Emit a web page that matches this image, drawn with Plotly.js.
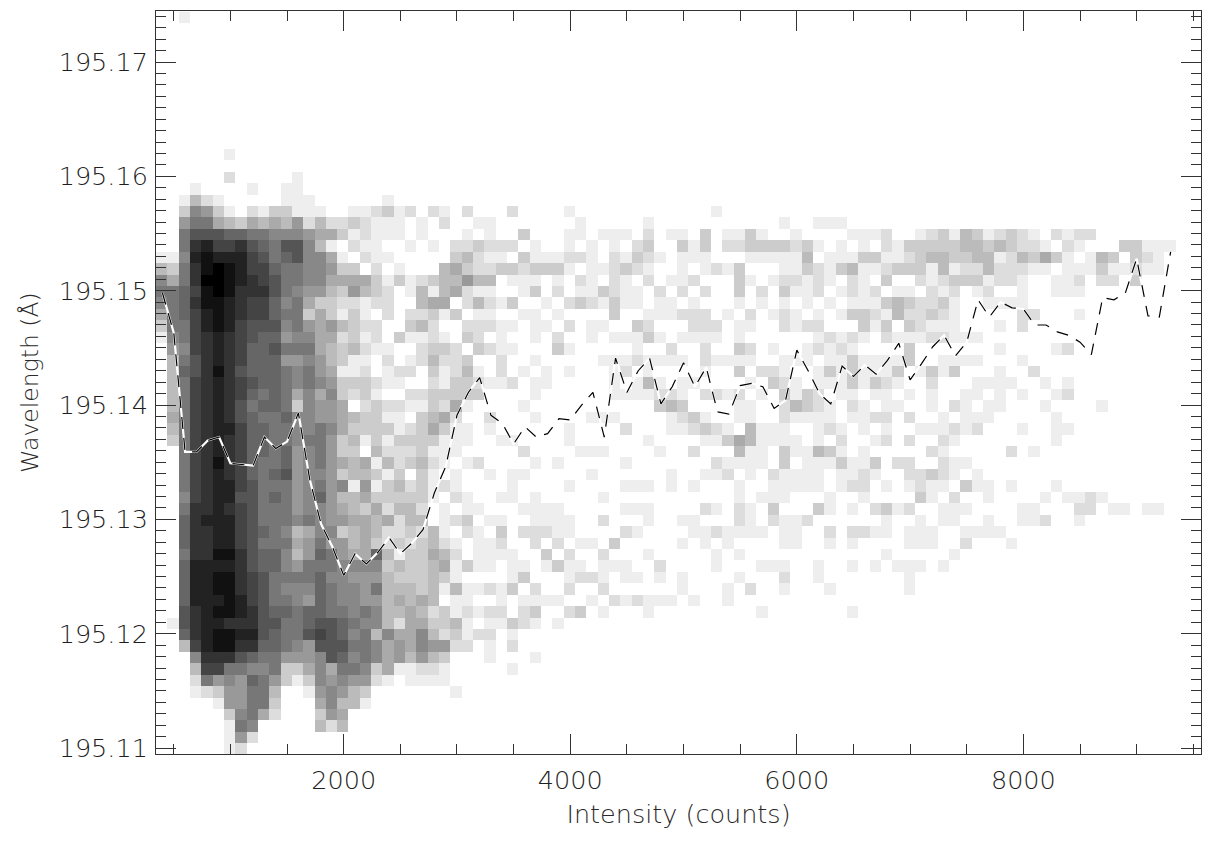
<!DOCTYPE html>
<html><head><meta charset="utf-8">
<script src="https://cdn.plot.ly/plotly-3.0.1.min.js"></script>
<style>html,body{margin:0;padding:0;background:#fff}#chart{width:1209px;height:846px}</style>
</head><body><div id="chart"></div>
<script>
// Left block: counts at intensities 400,500,...,3000 for one wavelength row
const L110=[0,0,0,0,0,0,1,2];
const L111=[0,0,0,0,0,0,1,6,2];
const L112=[0,0,0,0,0,0,1,8,7,0,0,0,0,0,4,2,4];
const L113=[0,0,0,0,0,0,3,7,8,5,2,0,0,0,3,6,5];
const L114=[0,0,0,0,0,1,6,6,8,8,3,0,0,0,5,7,4,4,1];
const L115=[0,0,0,1,2,3,6,6,8,8,4,0,0,1,6,7,6,4,3,0,0,0,0,0,0,0,1];
const L116=[0,0,0,2,8,6,7,6,9,8,6,3,1,3,7,6,7,6,6,2,1,0,1,1,1,1,0];
const L117=[0,0,0,4,11,11,8,8,7,7,8,3,3,5,7,5,8,8,7,3,5,1,1,2,2,1,0];
const L118=[0,0,0,7,12,12,12,10,9,8,8,6,6,6,7,10,9,7,8,7,5,6,4,6,4,3,0];
const L119=[0,0,4,11,13,14,14,12,12,9,9,8,7,6,10,10,10,8,8,7,5,6,5,7,6,6,2];
const L120=[0,0,9,12,13,14,14,13,13,10,9,8,8,10,11,10,9,7,8,4,7,5,5,7,4,2,3];
const L121=[0,1,10,12,13,13,12,12,12,10,10,8,8,9,10,10,9,8,7,7,4,2,5,5,3,3,4];
const L122=[0,0,10,12,13,14,14,13,12,10,9,9,8,9,9,8,8,7,8,7,4,4,5,4,2,3,1];
const L123=[0,0,9,13,13,13,14,13,11,10,8,8,7,6,9,8,7,7,6,6,4,5,4,5,4,0,1];
const L124=[0,0,9,13,13,14,14,12,11,10,8,7,7,7,9,8,7,7,6,8,4,4,4,3,4,1,4];
const L125=[0,0,9,13,13,14,14,12,11,10,8,8,8,8,9,7,7,6,6,6,4,3,3,3,4,3,1];
const L126=[0,0,9,13,13,13,13,12,10,9,9,7,6,8,8,8,7,7,7,7,3,4,3,3,4,5,1];
const L127=[0,0,8,12,12,14,14,12,10,9,9,7,4,6,9,8,6,5,5,9,4,1,3,3,5,4,2];
const L128=[0,0,9,12,12,13,13,11,10,8,8,8,5,6,8,6,6,4,5,3,2,3,2,3,4,2,1];
const L129=[0,0,9,12,12,13,13,11,10,9,8,7,4,5,7,7,3,4,5,4,2,2,3,2,4,1,0];
const L130=[0,0,9,12,13,13,13,11,10,8,8,8,7,8,7,6,6,5,5,4,5,2,4,4,0,1,2];
const L131=[0,0,8,12,12,13,12,11,10,8,8,8,6,7,7,6,5,4,3,5,2,4,4,2,0,1,0];
const L132=[0,0,7,11,12,13,13,10,10,8,9,8,6,7,9,6,4,4,5,3,3,3,3,3,1,0,2];
const L133=[0,0,8,11,12,13,13,11,10,8,8,8,6,7,8,6,7,1,6,1,3,4,2,3,1,2,1];
const L134=[0,0,8,11,12,13,12,11,9,8,9,10,6,7,7,6,3,4,4,3,1,3,0,3,1,0,1];
const L135=[0,0,8,11,12,14,12,11,9,8,8,9,6,7,8,6,5,4,5,1,4,2,3,4,2,1,0];
const L136=[0,0,8,11,12,13,12,11,9,9,8,9,6,7,8,6,3,3,0,4,2,2,2,3,1,1,1];
const L137=[0,3,8,11,12,13,12,11,9,9,8,8,7,8,8,6,3,4,1,3,1,3,3,3,3,1,1];
const L138=[0,4,8,11,12,13,13,11,9,9,8,8,7,7,8,7,5,3,3,3,3,1,2,3,5,3,1];
const L139=[0,5,8,11,12,13,12,10,9,8,8,9,7,7,6,6,5,4,3,3,1,1,0,3,4,5,2];
const L140=[0,4,8,11,12,13,12,10,8,9,9,8,3,7,6,6,5,0,2,3,2,2,1,1,3,2,5];
const L141=[0,4,8,11,12,13,12,11,9,8,9,8,5,7,5,7,3,2,3,1,0,0,2,2,3,3,3];
const L142=[0,4,8,11,12,13,12,11,10,9,9,8,7,8,7,6,3,3,3,2,1,1,0,0,2,1,3];
const L143=[0,4,9,10,12,14,12,10,9,9,9,8,7,8,6,5,1,1,2,0,1,2,2,0,3,1,2];
const L144=[0,4,8,10,12,13,12,11,9,9,9,6,6,7,6,4,3,1,1,0,2,0,1,2,4,2,2];
const L145=[0,6,7,11,12,13,12,11,9,9,10,8,8,8,5,4,3,4,2,1,1,0,0,2,3,3,2];
const L146=[1,7,8,11,12,13,12,11,10,9,9,6,7,7,5,5,2,3,1,2,0,3,1,1,2,1,0];
const L147=[3,8,8,11,13,14,13,11,10,10,10,7,8,6,5,6,4,3,2,2,0,0,3,4,2,0,0];
const L148=[5,8,9,11,13,14,13,12,11,11,9,8,8,3,5,3,1,3,1,0,2,0,2,2,3,1,3];
const L149=[7,8,9,12,14,14,13,12,11,11,9,7,8,5,3,3,2,2,1,2,2,0,0,4,5,5,0];
const L150=[8,8,9,11,14,15,14,12,12,12,10,8,7,6,6,4,3,6,4,3,2,0,1,4,1,4,5];
const L151=[7,5,8,12,15,15,14,13,12,11,10,8,8,7,7,5,5,5,5,3,1,3,1,2,3,4,4];
const L152=[4,3,8,12,14,15,14,13,11,11,9,8,8,7,7,6,3,3,0,2,0,1,0,0,0,4,5];
const L153=[1,1,7,13,14,13,13,13,11,10,8,9,10,7,7,5,1,0,2,1,1,0,0,0,0,0,3];
const L154=[0,0,8,12,13,11,11,12,10,9,8,10,10,7,4,1,0,2,1,1,0,0,1,0,1,0,2];
const L155=[0,0,8,10,10,10,9,9,8,8,7,7,7,6,5,5,3,1,2,1,1,1,0,1,0,0,0];
const L156=[0,0,6,8,8,5,4,3,5,4,5,4,6,2,4,2,2,3,2,1,1,1,0,1,0,2,0];
const L157=[0,0,3,7,6,3,1,0,2,1,3,3,1,1,1,0,0,1,1,2,3,1,2,0,2,1,0];
const L158=[0,0,1,4,2,1,0,0,0,0,0,1,1,1,0,0,0,0,0,0,1];
const L159=[0,0,0,1,0,0,0,0,1,0,0,1,1];
const L160=[0,0,0,0,0,0,2,0,0,0,0,0,1];
const L162=[0,0,0,0,0,0,1];
const L174=[0,0,1];

// Right block: alternating intensity, count for intensities above 3000
const R115=[];
const R117=[3500,1];
const R118=[3300,1,3700,1];
const R119=[3100,2,3300,1,3500,2];
const R120=[3100,1,3200,2,3300,2,3500,1];
const R121=[3100,1,3300,1,3400,1,3500,3,3600,2,3700,1,3900,1];
const R122=[3100,2,3200,1,3300,2,3400,2,3600,2,3700,3,4000,2,4100,3,4300,1,4700,1,5700,1,6500,1];
const R123=[3100,1,3400,1,3600,1,3700,1,3800,1,3900,1,4200,1,4400,2,4500,1,4600,2,4700,1,4800,1,4900,1,5100,1,5400,1];
const R124=[3100,1,3200,1,3300,2,3400,1,3500,3,3700,2,4000,2,4300,2,5000,1,5400,1,5600,2,5900,1,6300,1,7000,1];
const R125=[3500,1,3600,3,4000,1,4100,2,4200,2,4300,1,4500,1,4600,1,4800,1,5000,1,5500,1,5900,2,6200,1,7000,1];
const R126=[3100,3,3200,1,3300,1,3500,1,3600,1,3800,1,3900,3,4000,1,4100,1,4300,1,4400,1,4500,1,4800,2,5300,1,5700,1,5800,1,5900,1,6200,1,6500,1,6700,1,6900,1,7000,1,7100,1,7300,1];
const R127=[3200,1,3300,1,3400,1,3500,1,3800,3,4000,2,4300,2,4700,1,5300,1,5500,1,6800,1,7400,1];
const R128=[3200,1,3300,1,3400,2,3700,2,3900,2,4100,1,4200,1,4400,3,5000,1,5200,1,5400,1,5900,1,6000,1,6300,1,6500,1,7000,1,7100,1,7200,1,7500,2,7900,1];
const R129=[3100,2,3200,1,3400,3,3600,2,3700,2,3800,2,3900,1,4000,1,4500,2,4600,1,5100,1,5200,1,5300,2,5400,1,5500,1,5600,1,5700,1,5900,1,6000,1,6300,2,6500,2,6600,2,6700,1,6800,1,7000,1,7100,1,7200,1,7500,1,7600,1,7700,1,7800,1];
const R130=[3100,3,3300,1,3400,1,3700,1,3800,1,3900,1,4000,1,4300,2,4700,1,5000,1,5100,1,5500,2,5600,1,5800,2,5900,1,6000,1,6100,2,6800,1,7100,1,7300,1,7400,1,7700,1,8000,1,8100,1,8200,2,8500,1];
const R131=[3100,1,3200,1,3600,1,3700,1,3800,1,3900,1,4500,1,4600,1,4700,1,5200,2,5300,1,5500,2,5600,1,5800,3,6200,3,6300,1,6500,1,6700,2,6800,3,6900,1,7000,2,7300,1,7400,1,7500,1,8000,1,8100,1,8500,2,8600,2,8800,1,8900,1,9100,1,9200,1];
const R132=[3100,1,3400,1,3500,1,3700,1,4300,1,5500,1,5700,1,5800,1,5900,1,6300,1,6600,1,7100,3,7200,1,7400,2,7700,1,8200,1,8400,1,8500,1,8600,2,8700,1];
const R133=[3500,1,4000,1,4500,1,4600,1,4700,1,4900,1,5100,1,5500,1,5800,1,5900,1,6000,1,6100,1,6200,1,6400,1,6500,2,6600,2,6800,1,7000,1,7100,2,7200,1,7300,1,7500,3,7600,1,7700,1,7900,1,8300,1];
const R134=[3300,1,3500,1,3600,1,4200,1,4900,1,5200,1,5300,1,5400,2,5600,1,5800,2,5900,1,6000,1,6100,1,6200,1,6400,1,6500,1,6600,2,6700,1,7000,2,7100,2,7200,3,7300,2,7400,1,7600,1];
const R135=[3100,1,3200,2,3700,1,3900,1,4500,1,5300,2,5400,1,5500,1,5600,1,5700,1,5900,3,6100,1,6200,1,6300,1,6400,3,6500,1,6600,1,6700,3,6900,2,7000,2,7300,2,7400,1,7500,1];
const R136=[3600,2,4100,1,4200,1,4300,1,4800,1,5100,2,5500,4,5600,1,5700,1,5900,3,6000,1,6100,1,6200,4,6300,3,6400,1,6600,1,7200,2,7300,1,7900,2,8100,1];
const R137=[3100,1,3400,1,3500,1,4000,1,4700,1,5200,1,5300,1,5400,3,5500,5,5600,4,5700,1,5800,1,5900,1,6000,1,6200,1,6400,2,6700,1,6800,2,7000,2,7300,2,7400,1,8300,1];
const R138=[3100,1,3300,1,4000,1,4500,2,4900,1,5000,1,5100,2,5200,3,5300,2,5400,1,5600,4,5700,1,5800,1,5900,1,6200,1,6300,2,6400,1,6600,1,6800,1,7100,1,7200,1,7300,1,7400,2,7500,1,7600,2,8000,1,8300,1,8400,1];
const R139=[3300,2,3700,1,4200,1,4300,1,4400,1,4900,1,5000,2,5100,3,5200,1,5500,1,5600,1,5900,2,6000,1,6100,1,6200,1,6300,1,6500,1,6600,1,6700,2,6800,2,7000,2,7300,1,7500,1,7600,1,7700,1,8300,1];
const R140=[3100,1,3600,1,4800,3,4900,4,5000,3,5500,1,5600,1,5900,2,6000,4,6100,3,6200,2,6300,1,6500,2,6600,1,6800,1,6900,1,7200,1,7400,2,7500,1,7700,1,7800,1,8200,1,8700,1];
const R141=[3100,3,3200,3,3700,1,4400,1,4500,1,4600,1,4700,1,4800,2,4900,2,5000,1,5200,2,5300,2,5400,1,5500,2,5700,1,5900,3,6000,1,6100,3,6200,2,6400,1,6500,1,6700,1,6800,1,7000,1,7200,1,7500,1,7600,1,7800,1,8000,1,8300,1,8400,2];
const R142=[3100,3,3200,2,3300,1,3400,1,3500,2,3700,1,3800,1,4400,1,4600,1,4700,4,4800,1,5000,1,5100,1,5600,1,5800,3,5900,2,6000,1,6200,1,6300,1,6400,1,6500,3,6600,1,6700,3,6800,2,6900,1,7200,2,7600,1,7700,1,7800,1,7900,1,8200,1,8400,1];
const R143=[3100,4,3200,1,3400,2,3600,1,3800,1,4000,1,4400,1,4500,2,4700,1,5200,1,5500,3,5700,2,5800,2,5900,1,6200,1,6300,3,6400,1,6500,3,6600,1,6700,1,6800,1,6900,3,7100,1,7200,3,7300,1,7400,3,7800,1,8100,2];
const R144=[3100,3,3400,2,3700,1,4300,1,4400,1,4500,1,4600,2,4700,1,4800,1,4900,1,5000,1,5200,2,5300,1,5400,1,5500,1,5600,1,5900,1,6000,1,6100,1,6300,1,6400,1,6500,3,6600,1,6700,1,6800,1,6900,1,7000,3,7300,1,7400,1,7500,1,7600,1,8000,1];
const R145=[3200,3,3300,2,3400,1,3500,1,3900,3,4000,1,4600,1,4900,2,5200,2,5500,3,5600,2,5800,1,6100,1,6200,2,6300,1,6400,2,6500,1,7000,3,7800,1,8300,1,8400,2];
const R146=[3100,3,3200,2,3400,1,3700,1,3900,2,4200,1,4400,1,4500,1,4600,1,4700,3,4800,1,5000,1,5100,1,5200,1,5300,1,5500,1,6200,1,6300,2,6400,1,6500,2,6600,1,6800,2,6900,1,7000,1,7100,1,7200,2,7300,2,7400,1,7500,1,7600,1];
const R147=[3100,2,3200,2,3300,2,3400,1,3500,1,3700,1,3800,1,4000,2,4200,1,4300,1,4600,3,4700,2,5100,2,5200,2,5300,2,5500,1,5600,1,5900,2,6000,1,6100,2,6200,2,6600,3,6700,1,6800,3,7000,3,7100,2,7200,1,7300,1,7400,1,7800,1,8000,2];
const R148=[3200,1,3300,1,3600,1,3700,1,3900,1,4400,3,4700,1,4800,1,4900,1,5000,2,5100,2,5200,2,5400,1,5600,2,5800,1,5900,2,6000,1,6200,1,6400,1,6500,3,6600,3,6700,2,6800,1,6900,4,7000,2,7100,2,7200,3,7300,2,7400,1,8000,2,8100,2,8500,1];
const R149=[3100,2,3200,4,3300,2,3400,1,3500,3,3800,1,4000,2,4100,3,4200,2,4300,1,4400,3,4500,1,4600,1,4800,1,4900,1,5100,1,5500,1,5700,1,5900,1,6100,1,6300,1,6500,1,6600,1,6700,1,6800,3,6900,4,7000,3,7100,2,7200,2,7300,3,7400,1,7700,1,7800,1,7900,1,8000,1];
const R150=[3100,2,3200,1,3300,1,3600,1,3700,3,3900,2,4100,1,4200,1,4300,3,4400,2,4500,1,4600,1,4800,2,5000,2,5200,2,5500,3,5700,2,5900,3,6000,1,6100,1,6200,2,6400,1,6500,2,6600,1,6700,2,6900,1,7000,1,7200,2,7300,1,7400,2,7600,1,7700,2,8000,1,8300,1,8400,1,8500,1];
const R151=[3100,6,3200,4,3300,4,3500,1,3600,1,3700,1,3900,1,4100,2,4200,1,4400,2,4500,1,4700,2,4900,1,5000,1,5100,2,5500,3,5600,1,5800,1,5900,2,6000,2,6100,1,6200,2,6300,1,6500,2,6600,1,6800,3,7100,2,7200,1,7300,2,7400,3,7500,3,7600,3,7700,1,7800,2,7900,2,8000,1,8300,1,8400,1,8500,2,8700,2,8800,2,9000,3];
const R152=[3100,3,3200,2,3300,2,3400,3,3500,3,3600,2,3700,3,3800,3,3900,3,4000,1,4200,1,4300,1,4400,2,4500,3,4600,2,4700,1,5000,1,5200,1,5300,2,5400,1,5500,3,5900,1,6000,1,6100,3,6200,2,6300,1,6400,3,6500,4,6600,1,6700,1,6800,2,6900,3,7000,3,7100,3,7200,1,7300,4,7400,1,7500,2,7600,2,7700,4,7800,2,7900,2,8000,2,8100,1,8200,1,8400,1,8500,1,8600,1,8700,3,8800,1,8900,1,9000,2,9100,1,9200,1];
const R153=[3100,4,3200,2,3300,1,3400,1,3600,3,3700,1,3800,1,3900,1,4000,2,4100,2,4200,1,4400,2,4500,1,4600,3,4700,2,4800,1,5000,1,5100,1,5200,1,5600,1,5700,1,5800,1,5900,1,6000,1,6100,4,6300,1,6400,1,6500,1,6600,3,6700,3,6800,1,6900,1,7000,2,7100,3,7200,4,7300,4,7400,3,7500,3,7600,4,7700,4,7800,1,7900,2,8000,4,8100,3,8200,5,8300,3,8400,1,8600,1,8700,4,8800,3,9000,3,9100,2,9200,1];
const R154=[3100,2,3200,3,3300,2,3400,2,3500,2,3700,1,4000,1,4200,1,4400,1,4600,2,4700,3,5000,3,5100,1,5200,3,5400,2,5500,2,5600,3,5700,3,5800,3,5900,3,6000,2,6100,3,6200,1,6400,1,6600,1,6800,2,6900,1,7000,3,7100,3,7200,3,7300,3,7400,3,7500,4,7600,4,7700,3,7800,4,7900,3,8000,2,8100,2,8200,1,8400,2,8500,1,8900,3,9000,3,9100,1,9200,1,9300,1];
const R155=[3100,1,3300,1,3600,3,4000,1,4100,1,4300,1,4400,1,4500,1,4700,2,4900,1,5000,1,5200,3,5400,1,5500,1,5600,3,5700,1,6000,1,6500,1,6600,1,6700,1,6800,2,7100,1,7200,2,7300,3,7400,1,7500,4,7600,3,7700,1,7800,2,7900,3,8000,2,8100,1,8300,2,8400,1,8500,2,8600,2];
const R156=[3200,1,3300,1,4100,1,4700,1,5900,1,6200,1,6300,1,6400,1];
const R157=[3100,2,3500,2,4000,1,5300,1];

// Row tables: first wavelength row is 195.110, then one row per 0.001 Å
const leftRows=[L110,L111,L112,L113,L114,L115,L116,L117,L118,L119,L120,L121,L122,L123,L124,L125,L126,L127,L128,L129,L130,L131,L132,L133,L134,L135,L136,L137,L138,L139,L140,L141,L142,L143,L144,L145,L146,L147,L148,L149,L150,L151,L152,L153,L154,L155,L156,L157,L158,L159,L160,[],L162,[],[],[],[],[],[],[],[],[],[],[],L174];
const rightRows=[[],[],[],[],[],R115,[],R117,R118,R119,R120,R121,R122,R123,R124,R125,R126,R127,R128,R129,R130,R131,R132,R133,R134,R135,R136,R137,R138,R139,R140,R141,R142,R143,R144,R145,R146,R147,R148,R149,R150,R151,R152,R153,R154,R155,R156,R157];

// Mean-wavelength curve
const lineCounts=[400,500,600,700,800,900,1000,1100,1200,1300,1400,1500,1600,1700,1800,1900,2000,2100,2200,2300,2400,2500,2600,2700,2800,2900,3000,3100,3200,3300,3400,3500,3600,3700,3800,3900,4000,4100,4200,4300,4400,4500,4600,4700,4800,4900,5000,5100,5200,5300,5400,5500,5600,5700,5800,5900,6000,6100,6200,6300,6400,6500,6600,6700,6800,6900,7000,7100,7200,7300,7400,7500,7600,7700,7800,7900,8000,8100,8200,8300,8400,8500,8600,8700,8800,8900,9000,9100,9200,9300];
const lineWave=[195.1498,195.1463,195.1359,195.1359,195.1369,195.1372,195.1349,195.1348,195.1347,195.1372,195.1362,195.1368,195.1393,195.1335,195.1296,195.1276,195.1251,195.1270,195.1261,195.1271,195.1284,195.1270,195.1279,195.1291,195.1323,195.1346,195.1391,195.1411,195.1424,195.1391,195.1384,195.1366,195.1381,195.1372,195.1375,195.1388,195.1387,195.1400,195.1411,195.1372,195.1441,195.1411,195.1430,195.1441,195.1401,195.1416,195.1437,195.1416,195.1433,195.1394,195.1392,195.1417,195.1419,195.1416,195.1397,195.1404,195.1448,195.1430,195.1410,195.1401,195.1434,195.1425,195.1435,195.1427,195.1439,195.1454,195.1422,195.1436,195.1451,195.1461,195.1443,195.1455,195.1492,195.1477,195.1490,195.1485,195.1484,195.1470,195.1470,195.1464,195.1461,195.1455,195.1444,195.1494,195.1492,195.1498,195.1528,195.1478,195.1477,195.1534];

const xTickVals=[2000,4000,6000,8000];
const yTickVals=[195.11,195.12,195.13,195.14,195.15,195.16,195.17];

const NX=91, X_START=400, X_STEP=100, NY=leftRows.length;
const z=[];
for(let r=0;r<NY;r++){
  const row=new Array(NX).fill(0);
  leftRows[r].forEach((v,i)=>{row[i]=v;});
  const rr=rightRows[r]||[];
  for(let i=0;i<rr.length;i+=2){row[(rr[i]-X_START)/X_STEP]=rr[i+1];}
  z.push(row);
}

const ink='#333333';
const axisFont={family:'"DejaVu Sans Light","DejaVu Sans",sans-serif',size:25.5,color:'#1f1f1f'};
const xTitleFont={family:'"DejaVu Sans Light","DejaVu Sans",sans-serif',size:25.5,color:'#2a2a2a'};
const yTitleFont={family:'"DejaVu Sans Light","DejaVu Sans",sans-serif',size:23.5,color:'#2a2a2a'};

const traces=[
 {type:'heatmap',z:z,x0:X_START-8,dx:X_STEP,y0:195.1099,dy:0.001,zmin:0,zmax:15,
  colorscale:[[0,'#ffffff'],[1,'#000000']],showscale:false,hoverinfo:'skip',xgap:0,ygap:0,zsmooth:false},
 {type:'scatter',mode:'lines',x:lineCounts,y:lineWave,line:{color:'#ffffff',width:2.2},hoverinfo:'skip'},
 {type:'scatter',mode:'lines',x:lineCounts,y:lineWave,line:{color:'#000000',width:1.2,dash:'12px,9px'},hoverinfo:'skip'}
];
const layout={
 width:1209,height:846,showlegend:false,paper_bgcolor:'#fff',plot_bgcolor:'#fff',
 margin:{l:155.5,r:8,t:10.5,b:92.3,pad:0},
 xaxis:{range:[343,9568],tickmode:'array',tickvals:xTickVals,ticktext:xTickVals.map(String),ticks:'inside',ticklen:20,tickwidth:1,tickcolor:ink,ticklabelstandoff:3,
  showgrid:false,zeroline:false,showline:true,linecolor:ink,linewidth:1,mirror:'ticks',tickfont:axisFont,
  title:{text:'Intensity (counts)',font:xTitleFont,standoff:11},
  minor:{dtick:500,tick0:0,ticks:'inside',ticklen:10,tickwidth:1,tickcolor:ink,showgrid:false}},
 yaxis:{range:[195.10948,195.17446],tickmode:'array',tickvals:yTickVals,ticktext:yTickVals.map(v=>v.toFixed(2)),ticks:'inside',ticklen:20,tickwidth:1,tickcolor:ink,ticklabelstandoff:2,
  showgrid:false,zeroline:false,showline:true,linecolor:ink,linewidth:1,mirror:'ticks',tickfont:axisFont,
  title:{text:'Wavelength (Å)',font:yTitleFont,standoff:13},
  minor:{dtick:0.001,tick0:195.11,ticks:'inside',ticklen:10,tickwidth:1,tickcolor:ink,showgrid:false}}
};
Plotly.newPlot('chart',traces,layout,{displayModeBar:false,staticPlot:true});
</script></body></html>
